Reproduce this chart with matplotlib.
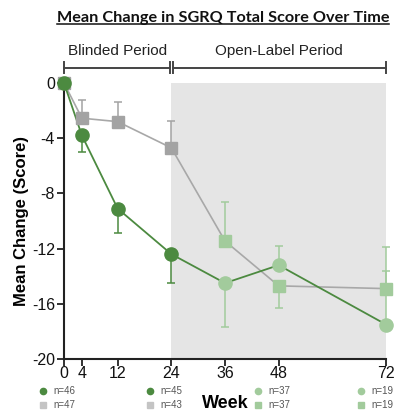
import matplotlib
matplotlib.use("Agg")
import matplotlib.pyplot as plt
from matplotlib.transforms import blended_transform_factory
import numpy as np

# ---- data ----
weeks = [0, 4, 12, 24, 36, 48, 72]
week_ticks = [0, 4, 12, 24, 36, 48, 72]
y_ticks = [0, -4, -8, -12, -16, -20]

circle_mean = [0, -3.8, -9.1, -12.4, -14.5, -13.2, -17.5]
circle_err_low = [0, 1.2, 1.8, 2.1, 3.2, 0, 0]
circle_err_high = [0, 0, 0, 0, 0, 1.4, 5.65]

square_mean = [0, -2.55, -2.8, -4.7, -11.45, -14.7, -14.9]
square_err_low = [0, 0, 0, 0, 0, 1.6, 0]
square_err_high = [0, 1.3, 1.4, 1.95, 2.85, 0, 1.3]

n_weeks = [0, 24, 48, 72]
n_circle = ["n=46", "n=45", "n=37", "n=19"]
n_square = ["n=47", "n=43", "n=37", "n=19"]

period_labels = ["Blinded Period", "Open-Label Period"]
period_bounds = [(0, 24), (24, 72)]

title = "Mean Change in SGRQ Total Score Over Time"
ylabel = "Mean Change (Score)"
xlabel = "Week"

# ---- style ----
DARK_GREEN = "#4c8a40"
LIGHT_GREEN = "#a2cb9c"
GRAY = "#a3a3a3"
LINE_GRAY = "#a8a8a8"
SHADE = "#e5e5e5"
AX_COL = "#222222"
plt.rcParams["font.family"] = ["Liberation Sans", "DejaVu Sans"]

fig = plt.figure(figsize=(3.95, 4.19), dpi=100)
ax = fig.add_axes([64 / 395, 1 - 359 / 419, (386 - 64) / 395, (359 - 83) / 419])
ax.set_xlim(0, 72)
ax.set_ylim(-20, 0)

ax.axvspan(24, 72, ymin=0, ymax=1, color=SHADE, zorder=0, lw=0)

open_start = 24
def pt_color(w, base):
    return base if w <= open_start else LIGHT_GREEN

# lines
ax.plot(weeks, square_mean, color=LINE_GRAY, lw=1.2, zorder=2, clip_on=False)
ax.plot(weeks, circle_mean, color=DARK_GREEN, lw=1.3, zorder=3, clip_on=False)

# error bars and markers
for i, w in enumerate(weeks):
    sc = pt_color(w, GRAY)
    cc = pt_color(w, DARK_GREEN)
    if square_err_low[i] or square_err_high[i]:
        ax.errorbar([w], [square_mean[i]], yerr=[[square_err_low[i]], [square_err_high[i]]],
                    fmt="none", ecolor=sc, elinewidth=1.1, capsize=3, capthick=1.1,
                    zorder=2.5, clip_on=False)
    if circle_err_low[i] or circle_err_high[i]:
        ax.errorbar([w], [circle_mean[i]], yerr=[[circle_err_low[i]], [circle_err_high[i]]],
                    fmt="none", ecolor=cc, elinewidth=1.1, capsize=3, capthick=1.1,
                    zorder=3.5, clip_on=False)
    ax.plot([w], [square_mean[i]], marker="s", ms=8.5, color=sc, mec=sc,
            zorder=4, clip_on=False, ls="none")
    ax.plot([w], [circle_mean[i]], marker="o", ms=9.5, color=cc, mec=cc,
            zorder=5, clip_on=False, ls="none")

# axes styling
for s in ["top", "right"]:
    ax.spines[s].set_visible(False)
for s in ["left", "bottom"]:
    ax.spines[s].set_color(AX_COL)
    ax.spines[s].set_linewidth(1.5)
ax.spines["bottom"].set_bounds(0, 72)
ax.set_xticks(week_ticks)
ax.set_yticks(y_ticks)
ax.set_yticklabels([str(t) for t in y_ticks])
ax.tick_params(axis="both", direction="out", length=5, width=1.3, color=AX_COL,
               labelsize=11.5, labelcolor="#111111", pad=1.5)
ax.tick_params(axis="x", pad=0)

ax.set_ylabel(ylabel, fontsize=12, fontweight="bold", labelpad=2)
ax.set_xlabel(xlabel, fontsize=13, fontweight="bold", labelpad=10)

# period brackets
yb = 1.1
for (a, b), lab in zip(period_bounds, period_labels):
    xa = a + (0.35 if a > 0 else 0)
    xb = b - (0.35 if b < 72 else 0)
    ax.plot([xa, xb], [yb, yb], color="#444444", lw=1.4, clip_on=False)
    for xx in (xa, xb):
        ax.plot([xx, xx], [yb - 0.4, yb + 0.4], color="#444444", lw=1.4, clip_on=False)
    ax.text((a + b) / 2, yb + 1.25, lab, ha="center", va="center", fontsize=11,
            color="#222222", clip_on=False)

# n annotations
tr = blended_transform_factory(ax.transData, fig.transFigure)
y1 = 1 - 391 / 419
y2 = 1 - 405 / 419
for w, nc, ns in zip(n_weeks, n_circle, n_square):
    mc = pt_color(w, DARK_GREEN)
    ms_c = pt_color(w, "#c4c4c4")
    shift = -0.9 if w == 72 else 0.0
    ax.plot([w - 4.7 + shift], [y1], marker="o", ms=4.5, color=mc, transform=tr, clip_on=False)
    ax.plot([w - 4.7 + shift], [y2], marker="s", ms=4.5, color=ms_c, transform=tr, clip_on=False)
    ax.text(w - 2.4 + shift, y1, nc, transform=tr, fontsize=7, color="#555555", va="center", ha="left")
    ax.text(w - 2.4 + shift, y2, ns, transform=tr, fontsize=7, color="#555555", va="center", ha="left")

# title with underline
t = fig.text(223 / 395, 1 - 18 / 419, title, ha="center", va="center", fontsize=11.7,
             fontweight="bold", family=["Lato", "DejaVu Sans"], color="#111111")
fig.canvas.draw()
bb = t.get_window_extent().transformed(fig.transFigure.inverted())
fig.add_artist(plt.Line2D([bb.x0, bb.x1], [bb.y0 + 0.003, bb.y0 + 0.003],
                          transform=fig.transFigure, color="#111111", lw=1.1))

fig.savefig("out.png", dpi=100)
